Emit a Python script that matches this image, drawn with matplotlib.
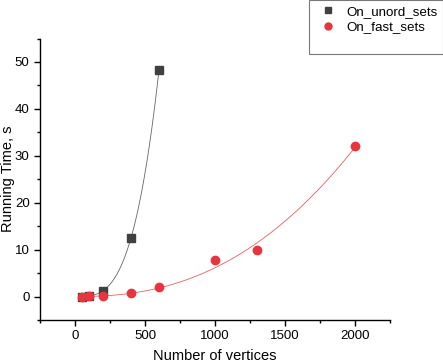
import numpy as np
import matplotlib
matplotlib.use("Agg")
from matplotlib import pyplot as plt
from matplotlib.lines import Line2D
from matplotlib.ticker import MultipleLocator

plt.rcParams['font.family'] = ['Liberation Sans', 'DejaVu Sans']

# data
unord_x = np.array([50, 100, 200, 400, 600])
unord_y = np.array([0.0, 0.2, 1.2, 12.5, 48.3])
fast_x = np.array([50, 100, 200, 400, 600, 1000, 1300, 2000])
fast_y = np.array([0.0, 0.1, 0.15, 0.7, 2.0, 7.7, 10.0, 32.0])

UNORD_COLOR = "#404040"
FAST_COLOR = "#e8343c"


def power_fit(x, y):
    # y = a * x^b, least squares in linear space, b from a simple scan
    best = None
    for b in np.linspace(1.0, 5.0, 4001):
        xb = x ** b
        a = np.dot(xb, y) / np.dot(xb, xb)
        err = np.sum((a * xb - y) ** 2)
        if best is None or err < best[0]:
            best = (err, a, b)
    return best[1], best[2]


fig = plt.figure(figsize=(4.43, 3.62), dpi=100)
ax = fig.add_axes([40 / 443, 1 - 320 / 362, 350 / 443, (320 - 38.5) / 362])

for x, y, color in [(unord_x, unord_y, UNORD_COLOR), (fast_x, fast_y, FAST_COLOR)]:
    a, b = power_fit(x.astype(float), y)
    xs = np.linspace(x.min(), x.max(), 300)
    ax.plot(xs, a * xs ** b, "-", color=color, lw=0.6, alpha=0.8)

ax.plot(unord_x, unord_y, "s", color=UNORD_COLOR, ms=5.5, ls="none")
ax.plot(fast_x, fast_y, "o", color=FAST_COLOR, ms=6, ls="none")

ax.set_xlim(-250, 2250)
ax.set_ylim(-5, 55)
ax.xaxis.set_major_locator(MultipleLocator(500))
ax.xaxis.set_minor_locator(MultipleLocator(250))
ax.yaxis.set_major_locator(MultipleLocator(10))
ax.yaxis.set_minor_locator(MultipleLocator(5))
ax.spines["top"].set_visible(False)
ax.spines["right"].set_visible(False)
for s in ("left", "bottom"):
    ax.spines[s].set_linewidth(1.0)
ax.tick_params(which="major", direction="out", length=4, width=1, labelsize=9.5)
ax.tick_params(which="minor", direction="out", length=2.5, width=1)

ax.set_xlabel("Number of vertices", fontsize=10.5)
ax.set_ylabel("Running Time, s", fontsize=10.5)
ax.xaxis.set_label_coords(0.5, (320 - 356) / 281.5, transform=ax.transAxes)
ax.yaxis.set_label_coords((8 - 40) / 350, 0.5, transform=ax.transAxes)
ax.xaxis.label.set_va("center")
ax.yaxis.label.set_va("center")

handles = [
    Line2D([], [], marker="s", color=UNORD_COLOR, ls="none", ms=4.5),
    Line2D([], [], marker="o", color=FAST_COLOR, ls="none", ms=5),
    Line2D([], [], ls="none"),
]
leg = fig.legend(handles, ["On_unord_sets", "On_fast_sets", " "],
                 loc="upper right", bbox_to_anchor=(443 / 443, 1.0),
                 borderaxespad=0.0,
                 frameon=True, fancybox=False, edgecolor="#555555",
                 fontsize=9.6, handletextpad=0.4, borderpad=0.4,
                 labelspacing=0.25, handlelength=2.0)
leg.get_frame().set_linewidth(0.8)

fig.savefig("out.png", dpi=100)
